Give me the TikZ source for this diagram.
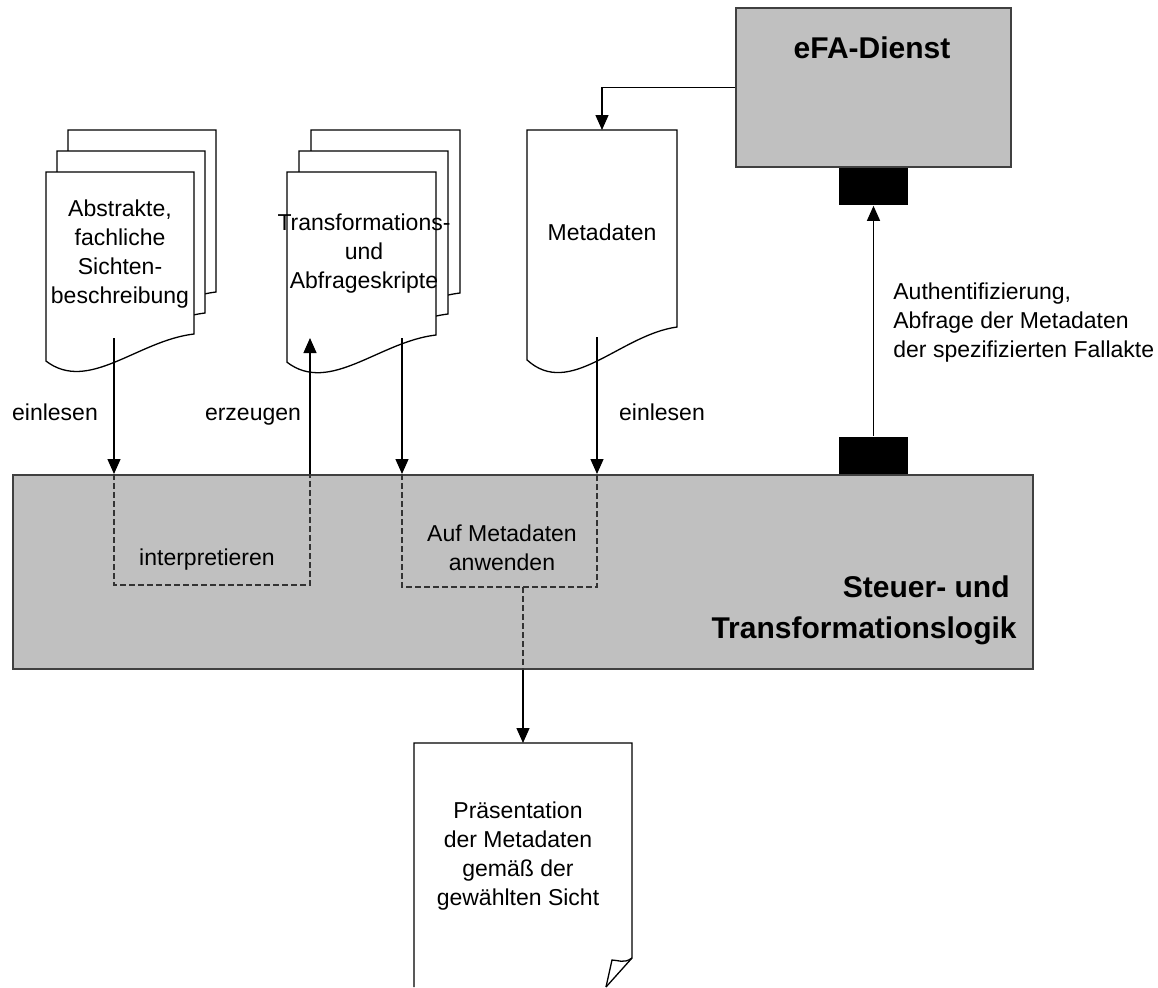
\documentclass[tikz,border=0pt]{standalone}
\usepackage{fontspec}
\setmainfont{Liberation Sans}
\usetikzlibrary{arrows.meta}
\definecolor{boxgray}{HTML}{C0C0C0}
\definecolor{boxline}{HTML}{404040}

\tikzset{
  docline/.style={draw=black, fill=white, line width=0.65pt},
  graybox/.style={draw=boxline, fill=boxgray, line width=1pt, inner sep=0pt, anchor=north west},
  portbox/.style={fill=black, inner sep=0pt, minimum width=34.5pt, minimum height=18.5pt},
  arr/.style={line width=0.65pt, -{Triangle[width=6.5pt,length=7.5pt]}},
  dashline/.style={line width=0.65pt, draw=black!80, dash pattern=on 3pt off 1.5pt},
  txt/.style={inner sep=0pt, align=center, font=\fontsize{11.5}{14.5}\selectfont},
  boldtxt/.style={inner sep=0pt, font=\fontsize{15}{20.5}\selectfont\bfseries}
}

% document with wavy lower edge: x, y (top left), width, height of right edge
\newcommand{\wavedoc}[4]{%
  \filldraw[docline] (#1,#2) -- ++(#3,0) -- ++(0,#4)
    .. controls +({-0.38*#3},{0.04*#4}) and +({0.287*#3},{0.2*#4}) .. ({#1},{#2+1.167*#4}) -- cycle;}

\begin{document}
\begin{tikzpicture}[x=0.5pt, y=-0.5pt]
  \useasboundingbox (0,0) rectangle (1158,987);

  % Service and control blocks
  \node[graybox, minimum width=137.5pt, minimum height=79.5pt] (efa) at (735,7) {};
  \node[boldtxt] (efatext) at (872,48) {eFA-Dienst};
  \node[portbox, anchor=north] (porthigh) at (efa.south) {};
  \node[graybox, minimum width=510pt, minimum height=97pt] (steuer) at (12,474) {};
  \node[portbox, anchor=south] (portlow) at (porthigh |- steuer.north) {};
  \node[boldtxt, align=right, anchor=east] (steuertext) at (1017,610)
    {Steuer- und\hspace*{3.5pt}\\Transformationslogik};

  % Document stacks
  \wavedoc{68}{130}{148}{162}
  \wavedoc{57}{151}{148}{162}
  \wavedoc{46}{172}{148}{162}
  \node[txt] (abstext) at (120,254) {Abstrakte,\\fachliche\\Sichten-\\beschreibung};

  \wavedoc{311}{130}{149}{163}
  \wavedoc{299}{151}{149}{163}
  \wavedoc{287}{172}{149}{163}
  \node[txt] (trtext) at (364,254) {Transformations-\\und\\Abfrageskripte};

  \wavedoc{527}{130}{150}{197}
  \node[txt] (metatext) at (602,232) {Metadaten};

  % Presentation page with curled corner
  \filldraw[docline] (414,987) -- (414,743) -- (632,743) -- (632,958) -- (606,987);
  \draw[line width=0.65pt] (632,958) .. controls (624,964) and (618,960) .. (612,960) -- (606,987);
  \node[txt] (praestext) at (518,856) {Präsentation\\der Metadaten\\gemäß der\\gewählten Sicht};

  % Connector ends
  \coordinate (absout) at (114,338);
  \coordinate (trin) at (310,338);
  \coordinate (trout) at (402,338);
  \coordinate (metaout) at (597,337);
  \coordinate (metain) at (602,130);
  \coordinate (apply) at (523,587);
  \coordinate (praestop) at (523,743);

  % Arrows
  \draw[arr] (efa.west) -| (metain);
  \draw[arr] (portlow.north) -- (porthigh.south);
  \draw[arr] (absout) -- (absout |- steuer.north);
  \draw[arr] (trin |- steuer.north) -- (trin);
  \draw[arr] (trout) -- (trout |- steuer.north);
  \draw[arr] (metaout) -- (metaout |- steuer.north);

  % Inner steps
  \draw[dashline] (absout |- steuer.north) -- (114,585) -| (trin |- steuer.north);
  \draw[dashline] (trout |- steuer.north) -- (402,587) -| (metaout |- steuer.north);
  \draw[dashline] (apply) -- (apply |- steuer.south);
  \draw[arr] (apply |- steuer.south) -- (praestop);

  % Labels
  \node[txt, anchor=base] (einl1) at (55,420) {einlesen};
  \node[txt, anchor=base] (erzeug) at (253,420) {erzeugen};
  \node[txt, anchor=base] (einl2) at (662,420) {einlesen};
  \node[txt] (interp) at (207,560) {interpretieren};
  \node[txt] (anwend) at (502,548) {Auf Metadaten\\anwenden};
  \node[txt, align=left, anchor=west] (authtext) at (893,323)
    {Authentifizierung,\\Abfrage der Metadaten\\der spezifizierten Fallakte};
\end{tikzpicture}
\end{document}
